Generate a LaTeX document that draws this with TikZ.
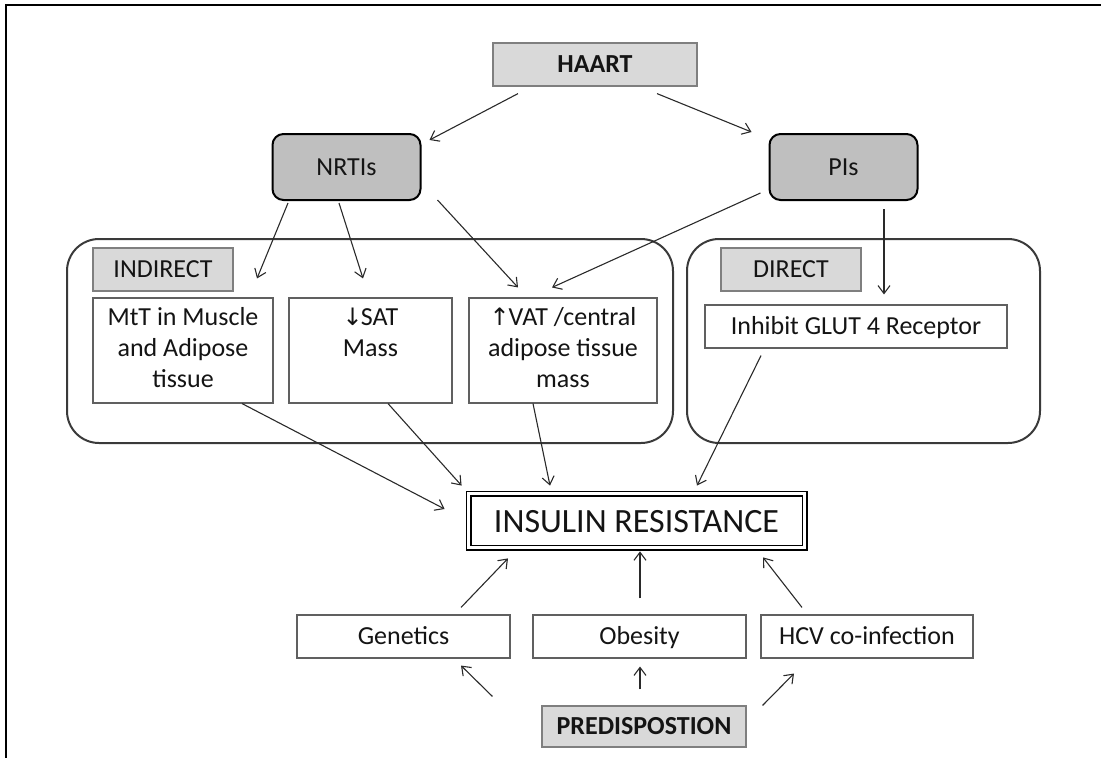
\documentclass[tikz,border=0pt]{standalone}
\usepackage{fontspec}
\setmainfont{Carlito}
\newfontfamily\symfont{DejaVu Sans}
\usetikzlibrary{arrows.meta}
\definecolor{lightbox}{HTML}{D9D9D9}
\definecolor{drugfill}{HTML}{BFBFBF}
\definecolor{labelline}{HTML}{7F7F7F}
\definecolor{boxline}{HTML}{606060}
\definecolor{contline}{HTML}{3A3A3A}
\definecolor{arrowcol}{HTML}{2A2A2A}
\definecolor{textcol}{HTML}{141414}
\begin{document}
\begin{tikzpicture}[x=1pt,y=-1pt,
  txt/.style={font=\fontsize{26}{31}\selectfont, text=textcol, inner sep=0pt},
  fixline/.style={text height=20pt, text depth=3.2pt},
  plainbox/.style={draw=boxline, line width=1.1pt, fill=white, inner sep=0pt, minimum height=43pt},
  labelbox/.style={draw=labelline, line width=1.2pt, fill=lightbox, inner sep=0pt, minimum height=43pt},
  drugbox/.style={draw=black, line width=2pt, fill=drugfill, rounded corners=11pt, inner sep=0pt, minimum width=148pt, minimum height=66pt},
  container/.style={draw=contline, line width=2pt, rounded corners=32pt, inner sep=0pt, minimum height=204pt},
  conn/.style={draw=arrowcol, line width=1.1pt, -{Straight Barb[length=8pt,width=12pt,line width=1.1pt]}}
]
\useasboundingbox (0,0) rectangle (1101,758);
% outer frame
\draw[line width=2.5pt, black] (6,758) -- (6,5) -- (1101,5);

% containers
\node[container, minimum width=606pt] (indirect) at (370,341) {};
\node[container, minimum width=353pt] (direct) at (863.5,341) {};

% top boxes
\node[labelbox, minimum width=204pt, txt, fixline, font=\fontsize{26}{31}\selectfont\bfseries] (haart) at (595,64.5) {HAART};
\node[drugbox, txt, fixline] (nrti) at (346.5,167) {NRTIs};
\node[drugbox, txt, fixline] (pis) at (843.5,167) {PIs};

% labels
\node[labelbox, minimum width=140pt, txt, fixline] (indlabel) at (163,269.5) {INDIRECT};
\node[labelbox, minimum width=140pt, txt, fixline] (dirlabel) at (791,269.5) {DIRECT};

% effect boxes
\node[plainbox, minimum width=180pt, minimum height=105pt] (mtt) at (183,350.5) {};
\node[plainbox, minimum width=163pt, minimum height=105pt] (sat) at (370.5,350.5) {};
\node[plainbox, minimum width=188pt, minimum height=105pt] (vat) at (563,350.5) {};
\node[txt, align=center, anchor=north] (mtttext) at ([yshift=-10pt]mtt.north) {MtT in Muscle\\and Adipose\\tissue};
\node[txt, align=center, anchor=north] (sattext) at ([yshift=-10pt]sat.north) {{\symfont\fontsize{24}{31}\selectfont ↓}\kern-2pt SAT\\Mass};
\node[txt, align=center, anchor=north] (vattext) at ([yshift=-10pt]vat.north) {{\symfont\fontsize{24}{31}\selectfont ↑}\kern-1pt VAT /central\\adipose tissue\\mass};
\node[plainbox, minimum width=302pt, txt, fixline] (inhibit) at (856,326.5) {Inhibit GLUT 4 Receptor};

% insulin resistance
\node[draw=black, line width=1.8pt, double, double distance=2.4pt, fill=white, inner sep=0pt,
      minimum width=336pt, minimum height=54pt, txt, text height=24pt, text depth=1pt,
      font=\fontsize{34}{40}\selectfont] (insulin) at (636.5,520.5) {INSULIN RESISTANCE};

% bottom boxes
\node[plainbox, minimum width=213pt, txt, fixline] (genetics) at (403.5,636.5) {Genetics};
\node[plainbox, minimum width=213pt, txt, fixline] (obesity) at (639.5,636.5) {Obesity};
\node[plainbox, minimum width=212pt, txt, fixline] (hcv) at (867,636.5) {HCV co-infection};
\node[labelbox, minimum width=204pt, minimum height=41pt, txt, fixline, font=\fontsize{26}{31}\selectfont\bfseries] (pred) at (644,726.5) {PREDISPOSTION};

% connectors
\draw[conn] ([xshift=-77pt,yshift=-7pt]haart.south) -- ([xshift=8pt,yshift=-7pt]nrti.north east);
\draw[conn] ([xshift=62pt,yshift=-7pt]haart.south) -- ([xshift=-17pt,yshift=1pt]pis.north west);
\draw[conn] ([xshift=-58.5pt,yshift=-2pt]nrti.south) -- ([xshift=74pt,yshift=19pt]mtt.north);
\draw[conn] ([xshift=-7.5pt,yshift=-2pt]nrti.south) -- ([xshift=-7.5pt,yshift=19pt]sat.north);
\draw[conn] ([xshift=16pt,yshift=1pt]nrti.south east) -- ([xshift=-45pt,yshift=10pt]vat.north);
\draw[conn] ([xshift=-8pt,yshift=8pt]pis.south west) -- ([xshift=-11pt,yshift=10pt]vat.north);
\draw[conn] ([xshift=40.5pt,yshift=-8pt]pis.south) -- ([xshift=28pt,yshift=10pt]inhibit.north);
\draw[conn] ([xshift=59pt]mtt.south) -- ([xshift=-23pt,yshift=11.5pt]insulin.west);
\draw[conn] ([xshift=17.5pt]sat.south) -- ([xshift=-6pt,yshift=7pt]insulin.north west);
\draw[conn] ([xshift=-30pt]vat.south) -- ([xshift=-86.5pt,yshift=7pt]insulin.north);
\draw[conn] ([xshift=-95pt,yshift=-7pt]inhibit.south) -- ([xshift=60.5pt,yshift=7pt]insulin.north);
\draw[conn] ([xshift=57.5pt,yshift=7pt]genetics.north) -- ([xshift=-128.5pt,yshift=-10pt]insulin.south);
\draw[conn] ([xshift=0.5pt,yshift=16pt]obesity.north) -- ([xshift=3.5pt,yshift=-3pt]insulin.south);
\draw[conn] ([xshift=-65pt,yshift=7pt]hcv.north) -- ([xshift=126.5pt,yshift=-9pt]insulin.south);
\draw[conn] ([xshift=-49pt,yshift=9pt]pred.north west) -- ([xshift=57.5pt,yshift=-7pt]genetics.south);
\draw[conn] ([xshift=-4pt,yshift=16pt]pred.north) -- ([xshift=0.5pt,yshift=-8pt]obesity.south);
\draw[conn] ([xshift=16pt]pred.north east) -- ([xshift=-73pt,yshift=-15pt]hcv.south);
\end{tikzpicture}
\end{document}
